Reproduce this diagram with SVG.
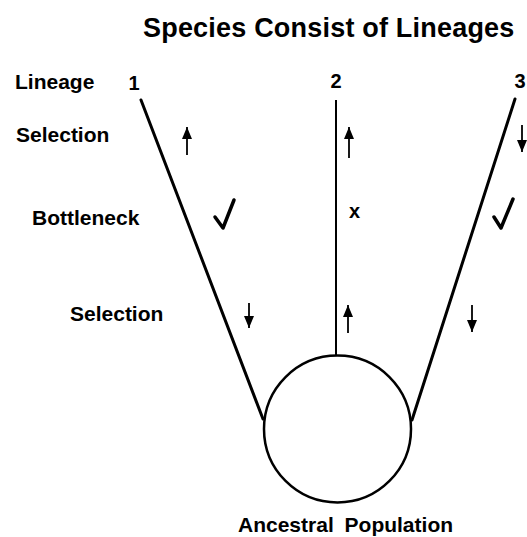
<svg xmlns="http://www.w3.org/2000/svg" width="527" height="537" viewBox="0 0 527 537">
<style>
  text { font-family: "Liberation Sans", Arial, Helvetica, sans-serif; font-weight: bold; fill: #000; }
  .title { font-size: 27px; letter-spacing: 0.2px; }
  .lbl { font-size: 21px; }
  .num { font-size: 20px; text-anchor: middle; }
  .lin { stroke: #000; stroke-width: 3; fill: none; stroke-linecap: round; }
  .lin2 { stroke: #000; stroke-width: 2; fill: none; }
  .arr { stroke: #000; stroke-width: 1.8; fill: none; marker-end: url(#head); }
  .chk { stroke: #000; stroke-width: 3.5; fill: none; stroke-linecap: round; stroke-linejoin: round; }
</style>
<defs>
  <marker id="head" markerUnits="userSpaceOnUse" viewBox="0 0 12 10" refX="12" refY="5" markerWidth="12" markerHeight="10" orient="auto">
    <path d="M0,0 L12,5 L0,10 z" fill="#000"/>
  </marker>
</defs>
<rect width="527" height="537" fill="#fff"/>
<text class="title" x="143" y="37">Species Consist of Lineages</text>

<g id="row-labels">
  <text class="lbl" x="15" y="89">Lineage</text>
  <text class="lbl" x="16" y="142">Selection</text>
  <text class="lbl" x="32" y="225">Bottleneck</text>
  <text class="lbl" x="70" y="321">Selection</text>
</g>

<g id="ancestral-population">
  <circle cx="337.5" cy="429" r="73.5" fill="none" stroke="#000" stroke-width="2.5"/>
  <text class="lbl" x="238" y="532" style="word-spacing:5px">Ancestral Population</text>
</g>

<g id="connectors">
  <line class="lin" x1="141" y1="100" x2="263" y2="419"/>
  <line class="lin2" x1="336" y1="100" x2="336" y2="356"/>
  <line class="lin" x1="515" y1="99" x2="412" y2="420"/>
</g>

<g id="lineage-1">
  <text class="num" x="134" y="90">1</text>
  <line class="arr" x1="187" y1="155" x2="187" y2="127"/>
  <polyline class="chk" points="215,217 223,228 234,200"/>
  <line class="arr" x1="249" y1="303" x2="249" y2="328"/>
</g>

<g id="lineage-2">
  <text class="num" x="336" y="88">2</text>
  <line class="arr" x1="349" y1="158" x2="349" y2="127"/>
  <text class="lbl" x="349" y="218" style="font-size:20px">x</text>
  <line class="arr" x1="348" y1="333" x2="348" y2="305"/>
</g>

<g id="lineage-3">
  <text class="num" x="520" y="88">3</text>
  <line class="arr" x1="522" y1="125" x2="522" y2="152"/>
  <polyline class="chk" points="494,217 501,228 513,199"/>
  <line class="arr" x1="472" y1="305" x2="472" y2="332"/>
</g>
</svg>
